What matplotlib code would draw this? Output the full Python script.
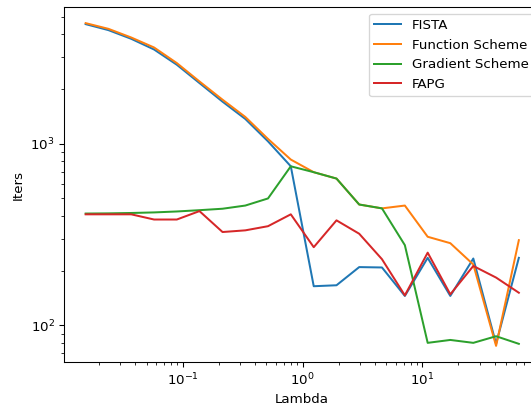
import matplotlib
matplotlib.use('Agg')
import matplotlib.pyplot as plt

# lambda values
lambdas = [0.0155, 0.0240, 0.0372, 0.0577, 0.0893, 0.138, 0.215, 0.333, 0.515, 0.798,
           1.24, 1.92, 2.97, 4.60, 7.14, 11.07, 17.1, 26.6, 41.2, 63.8]

fista = [4547, 4215, 3775, 3297, 2718, 2155, 1702, 1367, 1029, 750,
         164, 166, 209, 208, 145, 235, 145, 233, 79, 235]
function_scheme = [4605, 4284, 3838, 3382, 2776, 2199, 1745, 1402, 1061, 817,
                   696, 642, 462, 440, 456, 307, 283, 216, 77, 294]
gradient_scheme = [412, 413, 415, 418, 423, 430, 438, 456, 499, 750,
                   696, 642, 462, 440, 276, 80, 83, 80, 87, 79]
fapg = [408, 408, 408, 382, 382, 425, 326, 333, 351, 408,
        269, 378, 319, 231, 146, 251, 148, 212, 183, 151]


def plot_iters():
    fig = plt.figure(figsize=(531 / 96, 405 / 96), dpi=96)
    # axes run past the right edge, as in the cropped original
    ax = fig.add_axes([64 / 531, 43 / 405, 476.5 / 531, 355 / 405])

    ax.plot(lambdas, fista, label='FISTA')
    ax.plot(lambdas, function_scheme, label='Function Scheme')
    ax.plot(lambdas, gradient_scheme, label='Gradient Scheme')
    ax.plot(lambdas, fapg, label='FAPG')

    ax.set_xscale('log')
    ax.set_yscale('log')
    ax.set_xlabel('Lambda')
    ax.set_ylabel('Iters')
    ax.legend(loc='upper right')

    fig.savefig('out.png', dpi=96)


if __name__ == "__main__":
    plot_iters()
